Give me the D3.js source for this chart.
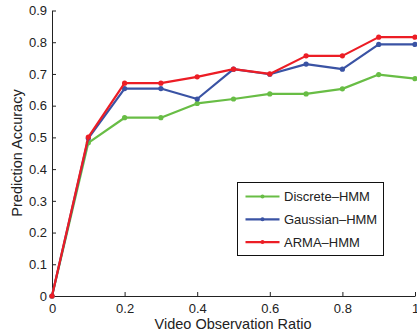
<!DOCTYPE html>
<html>
<head>
<meta charset="utf-8">
<script src="https://cdn.jsdelivr.net/npm/d3@7"></script>
<style>
  body { margin: 0; background: #fff; }
  svg { display: block; font-family: "Liberation Sans", Arial, sans-serif; }
</style>
</head>
<body>
<div class="vis"></div>
<script>
// chart data
const RATIOS = [0, 0.1, 0.2, 0.3, 0.4, 0.5, 0.6, 0.7, 0.8, 0.9, 1.0];
const DISCRETE = [0, 0.483, 0.562, 0.562, 0.607, 0.621, 0.637, 0.637, 0.653, 0.698, 0.685];
const GAUSSIAN = [0, 0.497, 0.654, 0.654, 0.621, 0.715, 0.699, 0.731, 0.715, 0.793, 0.793];
const ARMA = [0, 0.501, 0.671, 0.671, 0.691, 0.715, 0.700, 0.757, 0.757, 0.816, 0.816];
const SERIES_NAMES = ["Discrete\u2013HMM", "Gaussian\u2013HMM", "ARMA\u2013HMM"];
const X_TICKS = [0, 0.2, 0.4, 0.6, 0.8, 1];
const Y_TICKS = [0, 0.1, 0.2, 0.3, 0.4, 0.5, 0.6, 0.7, 0.8, 0.9];

const COLORS = ["#68bd45", "#3a53a4", "#ec1d25"];

const FRAME_WIDTH = 417;
const FRAME_HEIGHT = 335;
const MARGINS = {left: 52, right: 2, top: 10.5, bottom: 39};

const VIS_WIDTH = FRAME_WIDTH - MARGINS.left - MARGINS.right;
const VIS_HEIGHT = FRAME_HEIGHT - MARGINS.top - MARGINS.bottom;

const FRAME = d3.select('.vis')
  .append('svg')
    .attr('width', FRAME_WIDTH)
    .attr('height', FRAME_HEIGHT);

const X_SCALE = d3.scaleLinear().domain([0, 1]).range([MARGINS.left, MARGINS.left + VIS_WIDTH]);
const Y_SCALE = d3.scaleLinear().domain([0, 0.9]).range([MARGINS.top + VIS_HEIGHT, MARGINS.top]);

// axes (matlab style, ticks pointing inward)
const xAxis = FRAME.append('g')
  .attr('transform', 'translate(0,' + (MARGINS.top + VIS_HEIGHT) + ')')
  .call(d3.axisBottom(X_SCALE).tickValues(X_TICKS).tickSizeInner(-4).tickSizeOuter(0)
    .tickPadding(8).tickFormat(d => d3.format('~g')(d)));

const yAxis = FRAME.append('g')
  .attr('transform', 'translate(' + MARGINS.left + ',0)')
  .call(d3.axisLeft(Y_SCALE).tickValues(Y_TICKS).tickSizeInner(-4).tickSizeOuter(0)
    .tickPadding(5).tickFormat(d => d3.format('~g')(d)));

[xAxis, yAxis].forEach(g => {
  g.select('.domain').attr('stroke', '#222').attr('stroke-width', 1);
  g.selectAll('.tick line').attr('stroke', '#222');
  g.selectAll('.tick text').attr('fill', '#222').attr('font-size', '13px')
    .attr('font-family', '"Liberation Sans", Arial, sans-serif');
});

// series
const SERIES = [DISCRETE, GAUSSIAN, ARMA];
const line = d3.line().x((d, i) => X_SCALE(RATIOS[i])).y(d => Y_SCALE(d));

SERIES.forEach((vals, s) => {
  FRAME.append('path')
    .datum(vals)
    .attr('fill', 'none')
    .attr('stroke', COLORS[s])
    .attr('stroke-width', 2.2)
    .attr('stroke-linejoin', 'round')
    .attr('d', line);

  FRAME.selectAll('.pt' + s)
    .data(vals)
    .enter().append('circle')
      .attr('class', 'pt' + s)
      .attr('cx', (d, i) => X_SCALE(RATIOS[i]))
      .attr('cy', d => Y_SCALE(d))
      .attr('r', 2.6)
      .attr('fill', COLORS[s]);
});

// axis titles
FRAME.append('text')
  .attr('x', 233)
  .attr('y', 328.5)
  .attr('text-anchor', 'middle')
  .attr('font-size', '14.5px')
  .attr('fill', '#222')
  .text('Video Observation Ratio');

FRAME.append('text')
  .attr('transform', 'translate(22,153) rotate(-90)')
  .attr('text-anchor', 'middle')
  .attr('font-size', '14.5px')
  .attr('fill', '#222')
  .text('Prediction Accuracy');

// legend
const LEG = FRAME.append('g').attr('transform', 'translate(237.5,182.5)');
LEG.append('rect')
  .attr('width', 146)
  .attr('height', 73)
  .attr('fill', '#fff')
  .attr('stroke', '#111')
  .attr('stroke-width', 1);

SERIES_NAMES.forEach((name, s) => {
  const yy = 14 + s * 22.8;
  LEG.append('line')
    .attr('x1', 8).attr('x2', 42)
    .attr('y1', yy).attr('y2', yy)
    .attr('stroke', COLORS[s])
    .attr('stroke-width', 2.2);
  LEG.append('circle')
    .attr('cx', 25).attr('cy', yy).attr('r', 2)
    .attr('fill', COLORS[s]);
  LEG.append('text')
    .attr('x', 46.5)
    .attr('y', yy + 4.5)
    .attr('font-size', '13px')
    .attr('fill', '#222')
    .text(name);
});
</script>
</body>
</html>
